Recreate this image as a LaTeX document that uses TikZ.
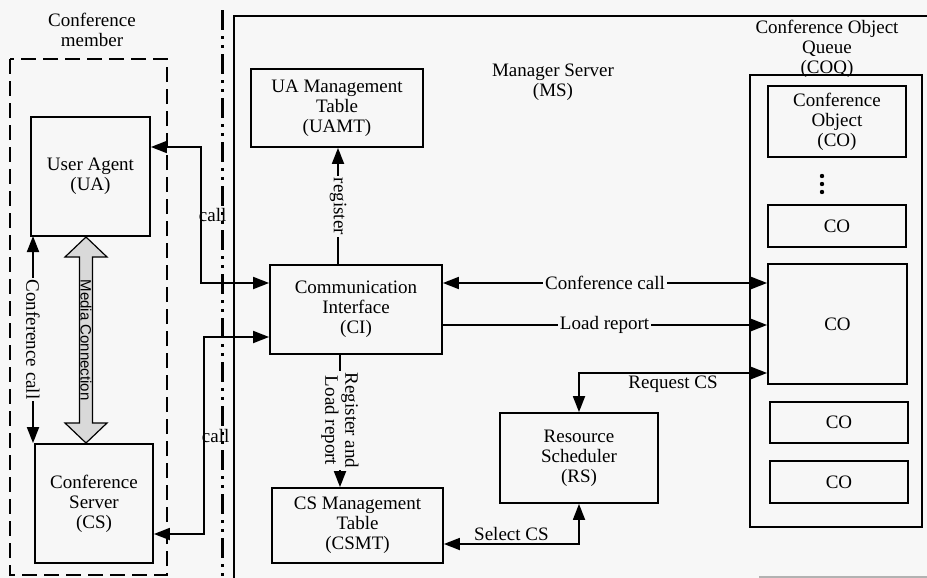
\documentclass[tikz,border=0pt]{standalone}
\usepackage{fontspec}
\setmainfont{Liberation Serif}
\setsansfont{Liberation Sans}
\usetikzlibrary{arrows.meta}
\definecolor{paper}{RGB}{247,247,247}

\begin{document}
\begin{tikzpicture}[x=0.5pt, y=-0.5pt,
    >={Triangle[length=8pt,width=6pt]},
    box/.style={draw, line width=0.9pt, inner sep=0pt, align=center, font=\fontsize{9.5}{10}\selectfont},
    tag/.style={inner sep=1pt, align=center, font=\fontsize{9.5}{10}\selectfont},
    link/.style={line width=0.9pt}]
			\fill[paper] (0,0) rectangle (927,578);
			\useasboundingbox (0,0) rectangle (927,578);
			% member side
			\node[tag] (member) at (92,30) {Conference\\member};
			\draw[line width=0.9pt, dash pattern=on 7.5pt off 3.5pt] (10,59) rectangle (167,575);
			\draw[line width=1.5pt, dash pattern=on 10pt off 3pt on 1.5pt off 3pt on 1.5pt off 3pt] (222,10) -- (222,578);
			\node[box, minimum width=59.5pt, minimum height=59.5pt] (ua) at (90.5,176.5) {User Agent\\(UA)};
			\node[box, minimum width=59pt, minimum height=59.5pt] (cs) at (94,503.5) {Conference\\Server\\(CS)};
			% manager server
			\draw[line width=0.9pt] (234,578) -- (234,16) -- (927,16);
			\draw[gray!60, line width=0.8pt] (759,577) -- (927,577);
			\node[tag] (ms) at (553,82.5) {Manager Server\\(MS)};
			\node[box, minimum width=86pt, minimum height=39pt] (uamt) at (337,108) {UA Management\\Table\\(UAMT)};
			\node[box, minimum width=86pt, minimum height=44.5pt] (ci) at (356,309.5) {Communication\\Interface\\(CI)};
			\node[box, minimum width=85.5pt, minimum height=37.5pt] (csmt) at (357.5,525.5) {CS Management\\Table\\(CSMT)};
			\node[box, minimum width=79pt, minimum height=45pt] (rs) at (579,458) {Resource\\Scheduler\\(RS)};
			% conference object queue
			\node[tag] (coqname) at (827,49) {Conference Object\\Queue\\(COQ)};
			\node[box, minimum width=86pt, minimum height=226pt] (coq) at (836,301) {};
			\node[box, minimum width=69pt, minimum height=35.5pt] (co1) at (837,121.5) {Conference\\Object\\(CO)};
			\foreach \y in {176,184,192}
				\fill (822,\y) circle (1.1pt);
			\node[box, minimum width=69pt, minimum height=21pt] (co2) at (837,226) {CO};
			\node[box, minimum width=69.5pt, minimum height=60pt] (co3) at (837.5,324) {CO};
			\node[box, minimum width=69pt, minimum height=20.5pt] (co4) at (839,422.5) {CO};
			\node[box, minimum width=69pt, minimum height=21pt] (co5) at (839,482) {CO};
			% bends
			\coordinate (b1) at (201,147);
			\coordinate (b2) at (201,283);
			\coordinate (b3) at (204,534);
			\coordinate (b4) at (204,337);
			\coordinate (b5) at (33,236);
			\coordinate (b6) at (338,265);
			\coordinate (b7) at (340,354);
			\coordinate (b8) at (579,544);
			\coordinate (b9) at (579,373);
			\coordinate (b10) at (442,325);
			% connectors
			\draw[link,<->] (ua.east |- b1) -- (b1) -- node[tag, right, xshift=-2.5pt] {call} (b2) -- (ci.west |- b2);
			\draw[link,<->] (cs.east |- b3) -- (b3) -- node[tag, right, xshift=-2.5pt] {call} (b4) -- (ci.west |- b4);
			\draw[link,<->] (b5) -- node[tag, rotate=-90, fill=paper] {Conference call} (cs.north -| b5);
			\draw[link,->] (b6) -- node[tag, rotate=-90, fill=paper] {register} (uamt.south -| b6);
			\draw[link,->] (b7) -- node[tag, rotate=-90, fill=paper] {Register and\\Load report} (csmt.north -| b7);
			\draw[link,<->] (csmt.east |- b8) -- node[tag, above] {Select CS} (b8) -- (rs.south -| b8);
			\draw[link,<->] (rs.north -| b9) -- (b9) -- node[tag, below] {Request CS} (co3.west |- b9);
			\draw[link,<->] (ci.east |- b2) -- node[tag, fill=paper] {Conference call} (co3.west |- b2);
			\draw[link,->] (b10) -- node[tag, fill=paper] {Load report} (co3.west |- b10);
			% media connection
			\filldraw[line width=0.6pt, fill=gray!30] (86,237) -- (107,257) -- (92.5,257) -- (92.5,423) -- (107,423) -- (86,443)
			  -- (65,423) -- (79.5,423) -- (79.5,257) -- (65,257) -- cycle;
			\node[rotate=-90, inner sep=0pt, font=\sffamily\fontsize{7.5}{8}\selectfont] (media) at (86,340) {Media Connection};
		\end{tikzpicture}
\end{document}
